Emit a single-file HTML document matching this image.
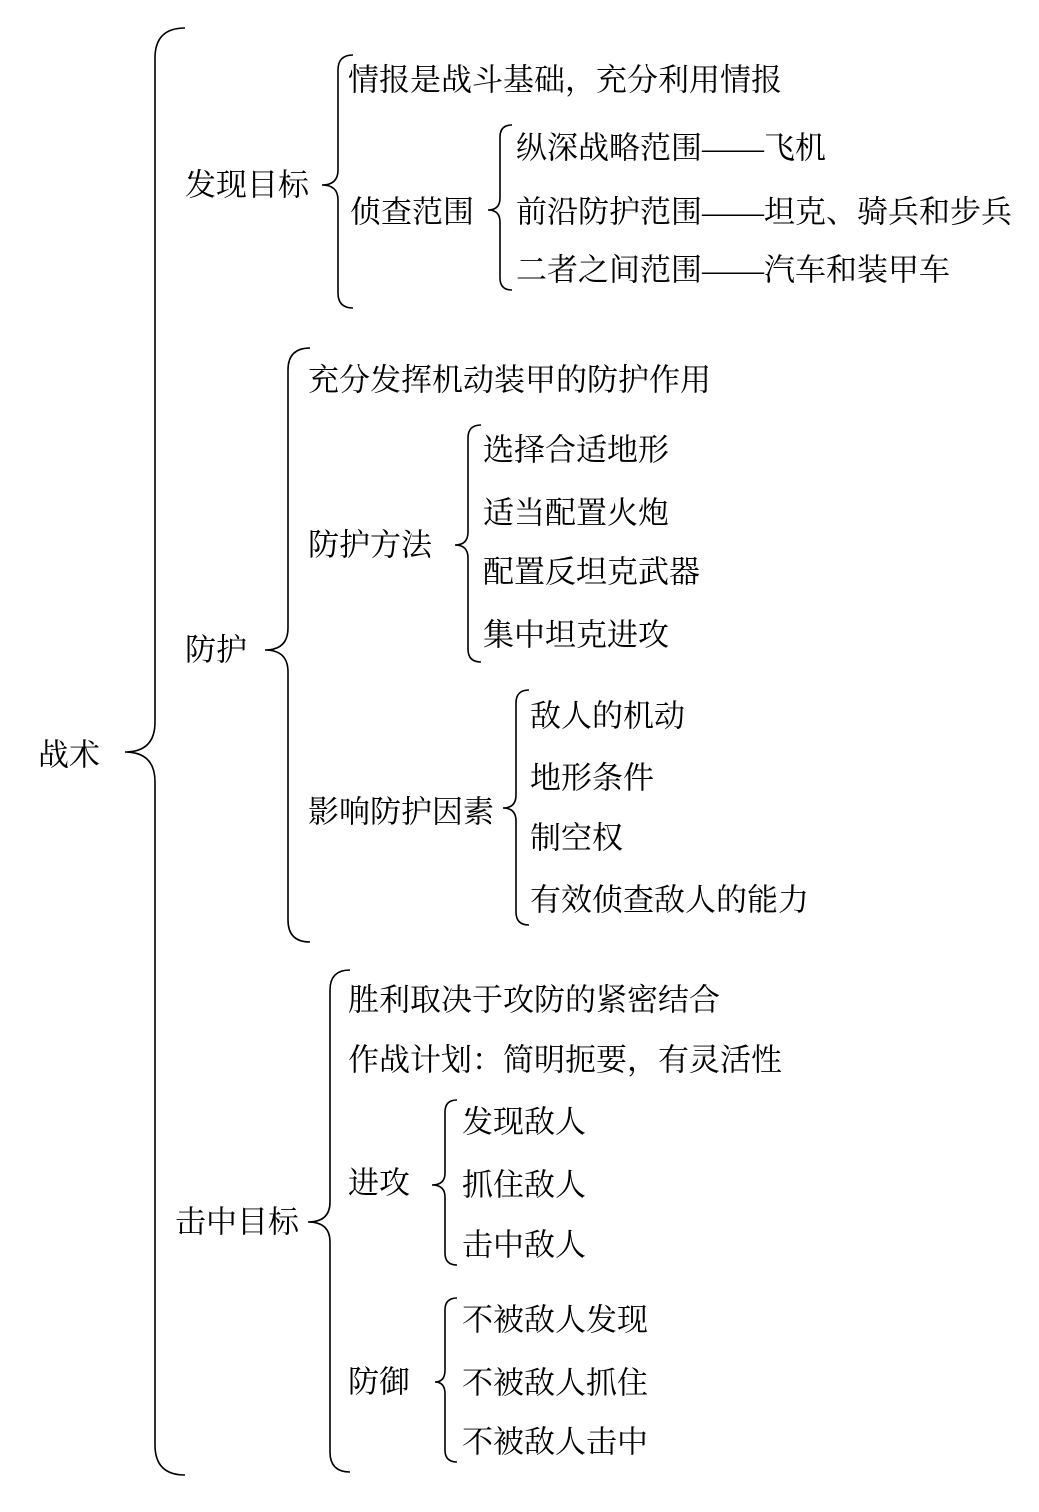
<!DOCTYPE html>
<html><head><meta charset="utf-8"><style>
html,body{margin:0;padding:0;background:#fff;}
svg{display:block}
text{font-family:"Liberation Serif","Noto Serif CJK SC",serif;font-size:31px;fill:#000;dominant-baseline:central;}
path{fill:none;stroke:#000;stroke-width:1.6;}
</style></head><body>
<svg width="1039" height="1512" viewBox="0 0 1039 1512" xmlns="http://www.w3.org/2000/svg">
<path d="M185,28 Q155,28 155,58 L155,722 Q155,752 125,752 Q155,752 155,782 L155,1445 Q155,1475 185,1475"/>
<path d="M353,55 Q338,55 338,70 L338,170 Q338,185 322,185 Q338,185 338,200 L338,293 Q338,308 353,308"/>
<path d="M512,125 Q500,125 500,137 L500,198 Q500,210 488,210 Q500,210 500,222 L500,278 Q500,290 512,290"/>
<path d="M310,348 Q288,348 288,370 L288,628 Q288,650 265,650 Q288,650 288,672 L288,920 Q288,942 310,942"/>
<path d="M481,425 Q468,425 468,438 L468,532 Q468,545 455,545 Q468,545 468,558 L468,649 Q468,662 481,662"/>
<path d="M529,690 Q516,690 516,703 L516,795 Q516,808 503,808 Q516,808 516,821 L516,912 Q516,925 529,925"/>
<path d="M350,970 Q330,970 330,990 L330,1202 Q330,1222 308,1222 Q330,1222 330,1242 L330,1452 Q330,1472 350,1472"/>
<path d="M457,1100 Q445,1100 445,1112 L445,1173 Q445,1185 432,1185 Q445,1185 445,1197 L445,1253 Q445,1265 457,1265"/>
<path d="M457,1298 Q445,1298 445,1310 L445,1370 Q445,1382 435,1382 Q445,1382 445,1394 L445,1450 Q445,1462 457,1462"/>

<text x="38" y="755">战术</text>
<text x="185" y="185">发现目标</text>
<text x="348" y="80">情报是战斗基础，充分利用情报</text>
<text x="350" y="212">侦查范围</text>
<text x="516" y="148">纵深战略范围——飞机</text>
<text x="516" y="212">前沿防护范围——坦克、骑兵和步兵</text>
<text x="516" y="270">二者之间范围——汽车和装甲车</text>

<text x="185" y="650">防护</text>
<text x="308" y="380">充分发挥机动装甲的防护作用</text>
<text x="308" y="545">防护方法</text>
<text x="483" y="450">选择合适地形</text>
<text x="483" y="513">适当配置火炮</text>
<text x="483" y="572">配置反坦克武器</text>
<text x="483" y="635">集中坦克进攻</text>
<text x="308" y="812">影响防护因素</text>
<text x="530" y="716">敌人的机动</text>
<text x="530" y="778">地形条件</text>
<text x="530" y="838">制空权</text>
<text x="530" y="900">有效侦查敌人的能力</text>

<text x="175" y="1222">击中目标</text>
<text x="348" y="1000">胜利取决于攻防的紧密结合</text>
<text x="348" y="1060">作战计划：简明扼要，有灵活性</text>
<text x="348" y="1183">进攻</text>
<text x="462" y="1122">发现敌人</text>
<text x="462" y="1185">抓住敌人</text>
<text x="462" y="1245">击中敌人</text>
<text x="348" y="1382">防御</text>
<text x="462" y="1320">不被敌人发现</text>
<text x="462" y="1383">不被敌人抓住</text>
<text x="462" y="1442">不被敌人击中</text>
</svg>
</body></html>
